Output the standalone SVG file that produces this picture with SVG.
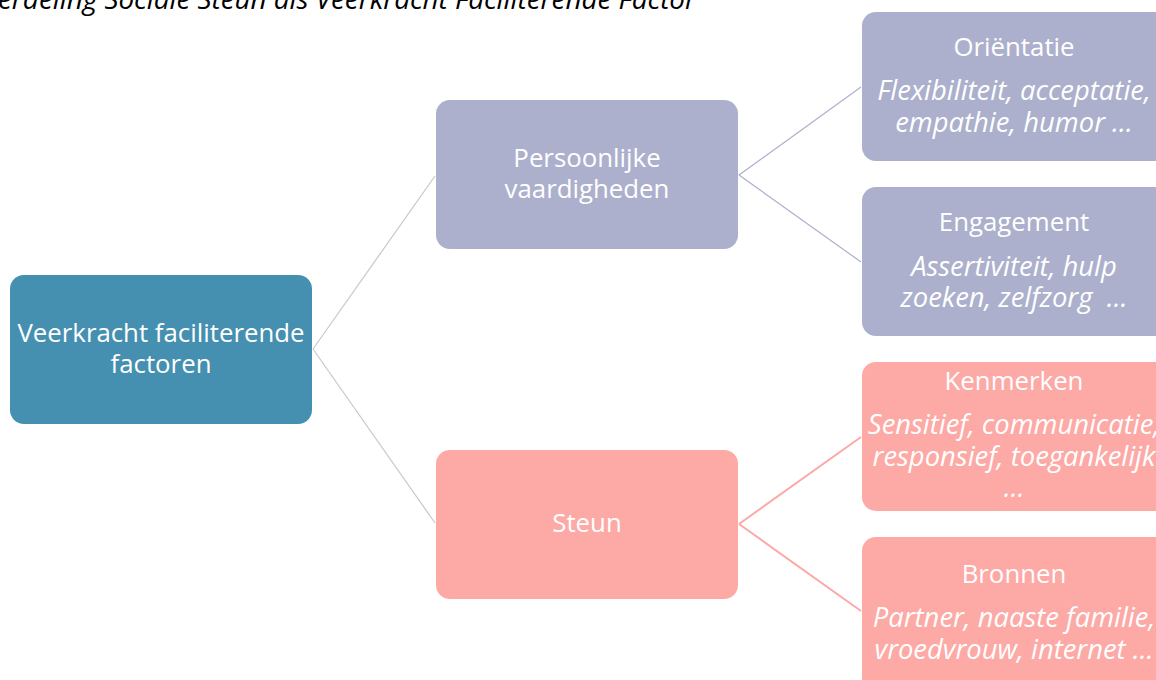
<svg xmlns="http://www.w3.org/2000/svg" width="1156" height="680" viewBox="0 0 1156 680">
<style>
.t{font-family:"Open Sans","Noto Sans","Liberation Sans",sans-serif;font-size:25.8px;fill:#fff;text-anchor:middle}
.i{font-style:italic;font-size:27.4px}
.title{font-family:"Open Sans","Liberation Sans",sans-serif;font-size:27.8px;font-style:italic;fill:#000}
.blue{fill:#4590B0}
.lav{fill:#ACB0CC}
.pink{fill:#FDA9A6}
.c{fill:none}
</style>
<rect width="1156" height="680" fill="#fff"/>
<text class="title" x="-2" y="9">erdeling Sociale Steun als Veerkracht Faciliterende Factor</text>
<g id="connectors" class="c">
<line x1="313" y1="349" x2="435" y2="176" stroke="#C8C8C8" stroke-width="1.2"/>
<line x1="313" y1="349" x2="435" y2="523" stroke="#C8C8C8" stroke-width="1.2"/>
<line x1="739" y1="175" x2="861" y2="87" stroke="#ACB0CC" stroke-width="1.2"/>
<line x1="739" y1="175" x2="861" y2="262" stroke="#ACB0CC" stroke-width="1.2"/>
<line x1="739" y1="524" x2="861" y2="437" stroke="#FDA9A6" stroke-width="2"/>
<line x1="739" y1="524" x2="861" y2="611" stroke="#FDA9A6" stroke-width="2"/>
</g>
<g id="root">
<rect class="blue" x="10" y="275" width="302" height="149" rx="14"/>
<text class="t" x="161" y="342">Veerkracht faciliterende</text>
<text class="t" x="161" y="373">factoren</text>
</g>
<g id="persoonlijke">
<rect class="lav" x="436" y="100" width="302" height="149" rx="14"/>
<text class="t" x="587" y="167">Persoonlijke</text>
<text class="t" x="587" y="198">vaardigheden</text>
</g>
<g id="steun">
<rect class="pink" x="436" y="450" width="302" height="149" rx="14"/>
<text class="t" x="587" y="532">Steun</text>
</g>
<g id="orientatie">
<rect class="lav" x="862" y="12" width="310" height="149" rx="14"/>
<text class="t" x="1014" y="56">Oriëntatie</text>
<text class="t i" x="1014" y="100">Flexibiliteit, acceptatie,</text>
<text class="t i" x="1014" y="132">empathie, humor …</text>
</g>
<g id="engagement">
<rect class="lav" x="862" y="187" width="310" height="149" rx="14"/>
<text class="t" x="1014" y="231">Engagement</text>
<text class="t i" x="1014" y="276">Assertiviteit, hulp</text>
<text class="t i" x="1014" y="307">zoeken, zelfzorg&#160; …</text>
</g>
<g id="kenmerken">
<rect class="pink" x="862" y="362" width="310" height="149" rx="14"/>
<text class="t" x="1014" y="390">Kenmerken</text>
<text class="t i" x="1014" y="434">Sensitief, communicatie,</text>
<text class="t i" x="1014" y="466">responsief, toegankelijk</text>
<text class="t i" x="1014" y="497">…</text>
</g>
<g id="bronnen">
<rect class="pink" x="862" y="537" width="310" height="160" rx="14"/>
<text class="t" x="1014" y="583">Bronnen</text>
<text class="t i" x="1014" y="627">Partner, naaste familie,</text>
<text class="t i" x="1014" y="659">vroedvrouw, internet …</text>
</g>
</svg>
